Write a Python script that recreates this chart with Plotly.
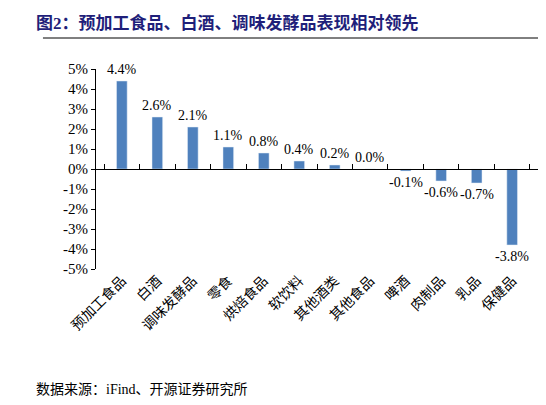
import plotly.graph_objects as go

cats = ["预加工食品", "白酒", "调味发酵品", "零食", "烘焙食品", "软饮料",
        "其他酒类", "其他食品", "啤酒", "肉制品", "乳品", "保健品"]
vals = [4.4, 2.6, 2.1, 1.1, 0.8, 0.4, 0.2, 0.0, -0.1, -0.6, -0.7, -3.8]
labels = ["%.1f%%" % v for v in vals]
yticks = [5, 4, 3, 2, 1, 0, -1, -2, -3, -4, -5]

serif = "Liberation Serif, Noto Sans CJK SC"
fig = go.Figure()
fig.add_bar(x=cats, y=vals, marker_color="#4f81bd")
# invisible trace to carry the zero-line axis with boundary ticks
fig.add_scatter(x=cats, y=vals, xaxis="x2", mode="markers",
                marker=dict(opacity=0), hoverinfo="skip", showlegend=False)

for c, v, t in zip(cats, vals, labels):
    fig.add_annotation(x=c, y=v, text=t, showarrow=False,
                       yanchor="bottom" if v >= 0 else "top",
                       yshift=2 if v >= 0 else -2,
                       font=dict(family=serif, size=14, color="black"))

fig.update_layout(
    width=546, height=405, plot_bgcolor="white", paper_bgcolor="white",
    margin=dict(l=88, r=16, t=61, b=144), bargap=0.7, showlegend=False,
    font=dict(family=serif, size=14, color="black"),
    xaxis=dict(showline=False, ticks="", tickangle=-45, tickfont=dict(size=14),
               showgrid=False, automargin=False),
    xaxis2=dict(overlaying="x", anchor="free", position=0.5, showline=True,
                linecolor="black", ticks="inside", ticklen=5, tickcolor="black",
                tickson="boundaries", showticklabels=False, showgrid=False,
                matches="x"),
    yaxis=dict(range=[-5, 5], tickvals=yticks,
               ticktext=["%d%%" % v for v in yticks], showgrid=False,
               zeroline=False, showline=True, linecolor="black",
               ticks="outside", ticklen=4, tickcolor="black",
               tickfont=dict(size=15), automargin=False),
)
fig.add_annotation(text="<b>图2：预加工食品、白酒、调味发酵品表现相对领先</b>",
                   xref="paper", yref="paper", x=-0.14, y=1.23, xanchor="left",
                   yanchor="middle", showarrow=False,
                   font=dict(size=17, color="#1f1f7a", family=serif))
fig.add_shape(type="line", xref="paper", yref="paper", x0=-0.12, x1=1.02,
              y0=1.155, y1=1.155, line=dict(color="black", width=1))
fig.add_annotation(text="数据来源：iFind、开源证券研究所", xref="paper", yref="paper",
                   x=-0.14, y=-0.6, xanchor="left", yanchor="middle",
                   showarrow=False, font=dict(size=14, family=serif))
fig.write_html("out.html")
